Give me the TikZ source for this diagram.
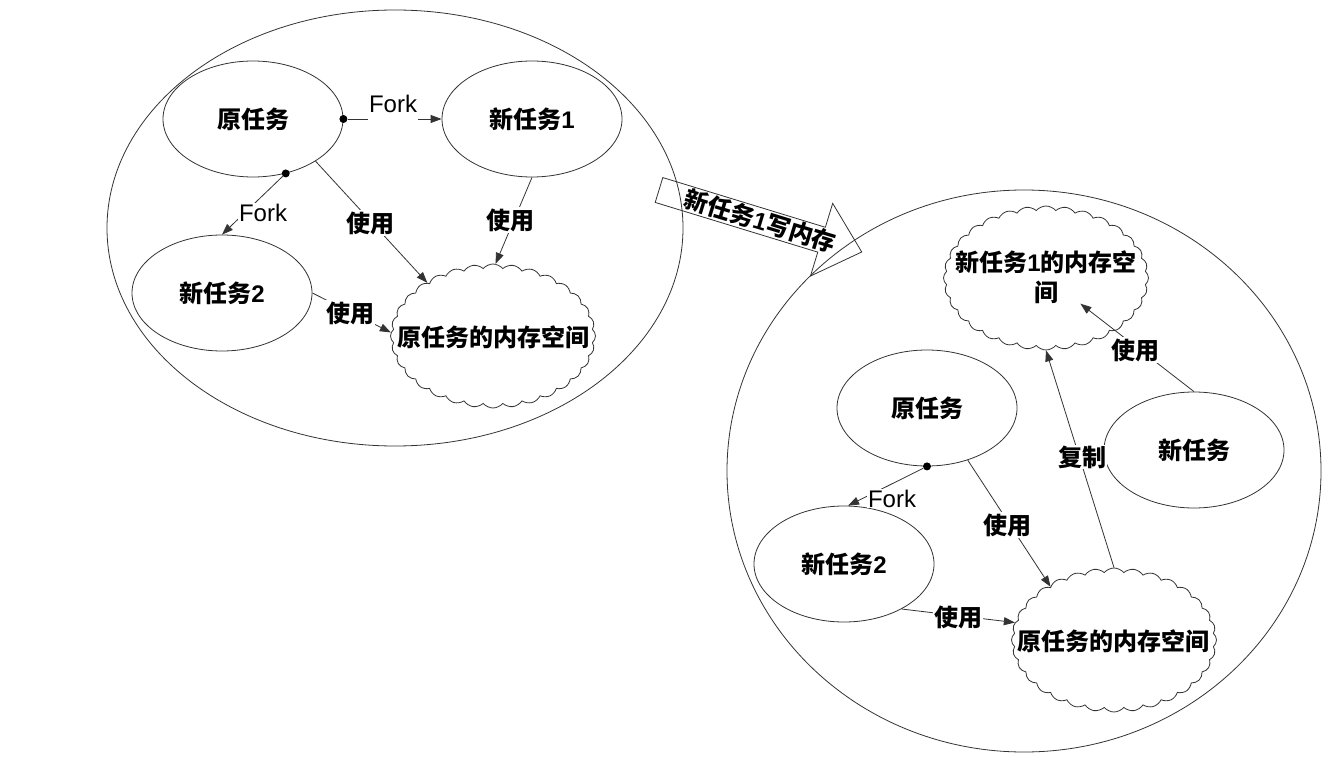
\documentclass[tikz,border=0pt]{standalone}
\usepackage{fontspec}
\setmainfont{Liberation Sans}
\newfontfamily\cjk{Noto Sans CJK SC}
\usetikzlibrary{shapes.geometric,shapes.symbols,arrows.meta,calc}
\begin{document}
\begin{tikzpicture}[x=1pt,y=-1pt,
  ln/.style={draw=black!80, line width=0.8pt},
  bigell/.style={ellipse, ln, inner sep=0pt},
  task/.style={ellipse, ln, minimum width=180pt, minimum height=116pt, inner sep=0pt,
    font=\fontsize{24}{28}\selectfont\bfseries},
  mem/.style={cloud, ln, cloud puffs=32, cloud puff arc=100, cloud ignores aspect,
    minimum width=205pt, minimum height=144pt, inner sep=0pt},
  memtext/.style={font=\cjk\fontsize{24}{30}\selectfont\bfseries, align=center, inner sep=0pt},
  lbl/.style={fill=white, inner sep=1pt, font=\fontsize{24}{28}\selectfont},
  cjklbl/.style={lbl, font=\cjk\fontsize{24}{28}\selectfont\bfseries},
  dotnode/.style={circle, fill=black, inner sep=0pt, minimum size=8pt},
  conn/.style={ln, -{Triangle[length=11pt,width=8pt]}},
]
\useasboundingbox[fill=white] (0,0) rectangle (1333,770);

% containers
\node[bigell, minimum width=576pt, minimum height=436pt] (bigL) at (395,228) {};
\node[bigell, minimum width=594pt, minimum height=562pt] (bigR) at (1024,471) {};

% left group
\node[task] (Lo)  at (253,119) {\cjk 原任务};
\node[task] (Ln1) at (532,119) {{\cjk 新任务}1};
\node[task] (Ln2) at (222,293) {{\cjk 新任务}2};
\node[mem] (CL) at (493,336) {};
\node[memtext] (CLt) at (493,337) {原任务的内存空间};

% right group
\node[task] (Ro)  at (927,408) {\cjk 原任务};
\node[task] (Rn)  at (1194,450) {\cjk 新任务};
\node[task] (Rn2) at (844,564) {{\cjk 新任务}2};
\node[mem] (CR1) at (1046,278) {};
\node[memtext] (CR1t) at (1046,277) {新任务{\rmfamily 1}的内存空\\间};
\node[mem] (CR2) at (1114,640) {};
\node[memtext] (CR2t) at (1113,641) {原任务的内存空间};

% dots
\node[dotnode] (d1) at (Lo.east) {};
\node[dotnode] (d2) at (Lo.-59) {};
\node[dotnode] (d3) at (Ro.south) {};

% connectors left
\draw[conn] (d1) -- (Ln1.west);
\draw[conn] (d2) -- (Ln2.north);
\draw[conn] (Lo.-34) -- (CL.141);
\draw[conn] (Ln1.south) -- (CL.88);
\draw[conn] (Ln2.east) -- (CL.178);

% connectors right
\draw[conn] (d3) -- (Rn2.86);
\draw[conn] (Ro.-52) -- (CR2.140);
\draw[conn] (Rn2.-38) -- (CR2.170);
\draw[conn] (Rn.north) -- (CR1t);
\draw[conn] (CR2.north) -- (CR1.south);

% labels
\node[lbl, anchor=base, text depth=8pt] (f1) at (393,113) {Fork};
\node[lbl] (f2) at (263,213) {Fork};
\node[cjklbl] (u1) at (370,223) {使用};
\node[cjklbl] (u2) at (510,220) {使用};
\node[cjklbl] (u3) at (350,313) {使用};
\node[lbl, anchor=base] (f3) at (892,507) {Fork};
\node[cjklbl] (u4) at (1007,525) {使用};
\node[cjklbl] (u5) at (958,617) {使用};
\node[cjklbl] (u6) at (1135,350) {使用};
\node[cjklbl] (cp) at (1082,457) {复制};

% block arrow
\begin{scope}[shift={(659,190)}, rotate=-17]
  \draw[ln] (0,-13) -- (170,-13) -- (170,-38) -- (212,0) -- (170,38) -- (170,13) -- (0,13) -- cycle;
  \node[transform shape, inner sep=0pt, font=\fontsize{24}{28}\selectfont\bfseries] (wr) at (106,0) {{\cjk 新任务}1{\cjk 写内存}};
\end{scope}
\end{tikzpicture}
\end{document}
